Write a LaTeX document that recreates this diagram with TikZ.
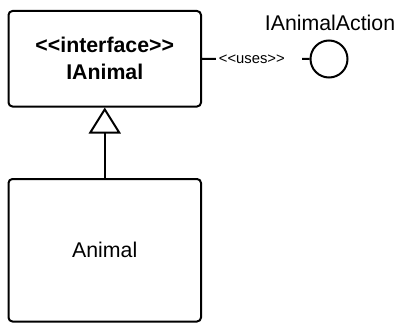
\documentclass[tikz,border=0pt]{standalone}
\usepackage{fontspec}
\setmainfont[Ligatures=TeXOff]{Liberation Sans}
\usetikzlibrary{arrows.meta}
\begin{document}
\begin{tikzpicture}[x=1pt,y=1pt,
  umlbox/.style={draw, line width=2pt, rounded corners=4pt, fill=white},
  bigfont/.style={font=\fontsize{21.3}{26.8}\selectfont},
  smallfont/.style={font=\fontsize{14.8}{17}\selectfont},
  conn/.style={line width=2pt}]
\useasboundingbox (0,0) rectangle (399,322);
% IAnimal interface box
\node[umlbox, bigfont, minimum width=192.5pt, minimum height=95.5pt, align=center]
  (ianimal) at (104.75,263.25) {\bfseries <<interface>>\\\bfseries IAnimal};
% Animal class box
\node[umlbox, bigfont, minimum width=192.5pt, minimum height=142.5pt]
  (animal) at (104.75,71.75) {Animal};
% generalization
\draw[conn, -{Triangle[open, length=26pt, width=32pt, line width=2pt]}]
  (animal.north) -- (ianimal.south);
% lollipop
\node[draw, circle, line width=2pt, minimum size=37pt, inner sep=0pt]
  (lolli) at (329,263) {};
\node[bigfont] (lolliname) at (330,299.5) {IAnimalAction};
% uses connector
\draw[conn] (ianimal.east) -- (lolli.west)
  node[pos=0.12, anchor=west, fill=white, smallfont, inner xsep=3pt, inner ysep=1pt,
       text width=80pt, align=left] (useslbl) {<<uses>>};
\end{tikzpicture}
\end{document}
